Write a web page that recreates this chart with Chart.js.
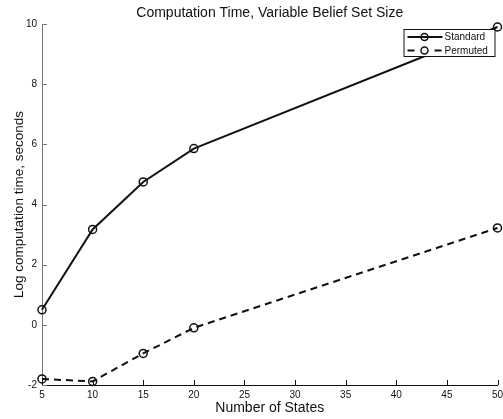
<!DOCTYPE html>
<html>
<head>
<meta charset="utf-8">
<script src="https://cdn.jsdelivr.net/npm/chart.js@4"></script>
<style>
html,body{margin:0;padding:0;background:#fff;}
canvas{display:block;}
</style>
</head>
<body>
<canvas id="c" width="503" height="419"></canvas>
<script>
/* ===== DATA ===== */
const states=[5,10,15,20,50];
const standardLog=[0.5,3.17,4.75,5.86,9.9];
const permutedLog=[-1.8,-1.88,-0.95,-0.1,3.22];
const seriesNames=['Standard','Permuted'];

const FONT='"Liberation Sans", Arial, Helvetica, sans-serif';
const INK='#111';

function pts(ys){return states.map((x,i)=>({x:x,y:ys[i]}));}

/* inward tick marks like the original */
const inwardTicks={
  id:'inwardTicks',
  beforeDatasetsDraw(chart){
    const {ctx,chartArea:a,scales:{x,y}}=chart;
    ctx.save();
    ctx.lineWidth=1;
    ctx.strokeStyle='#777';
    y.ticks.forEach(t=>{
      const py=Math.round(y.getPixelForValue(t.value))+0.5;
      ctx.beginPath();ctx.moveTo(a.left,py);ctx.lineTo(a.left+5,py);ctx.stroke();
    });
    ctx.strokeStyle=INK;
    x.ticks.forEach(t=>{
      const px=Math.round(x.getPixelForValue(t.value))+0.5;
      ctx.beginPath();ctx.moveTo(px,a.bottom);ctx.lineTo(px,a.bottom-5);ctx.stroke();
    });
    ctx.restore();
  }
};

/* boxed legend in the top-right corner */
const boxLegend={
  id:'boxLegend',
  afterDraw(chart){
    const {ctx,chartArea:a}=chart;
    const bx=a.right-94, by=a.top+5, bw=91, bh=27;
    ctx.save();
    ctx.fillStyle='#fff';ctx.fillRect(bx,by,bw,bh);
    ctx.strokeStyle=INK;ctx.lineWidth=1;
    ctx.strokeRect(bx+0.5,by+0.5,bw,bh);
    ctx.font='10px '+FONT;ctx.textBaseline='middle';
    chart.data.datasets.forEach((ds,i)=>{
      const ry=by+8+i*13.5;
      ctx.strokeStyle=INK;ctx.lineWidth=2;
      ctx.setLineDash(ds.borderDash||[]);
      if(ds.borderDash){
        ctx.beginPath();ctx.moveTo(bx+4,ry);ctx.lineTo(bx+11,ry);ctx.stroke();
        ctx.beginPath();ctx.moveTo(bx+31,ry);ctx.lineTo(bx+39,ry);ctx.stroke();
      }else{
        ctx.beginPath();ctx.moveTo(bx+4,ry);ctx.lineTo(bx+39,ry);ctx.stroke();
      }
      ctx.setLineDash([]);
      ctx.lineWidth=1.5;
      ctx.beginPath();ctx.arc(bx+21,ry,3.5,0,Math.PI*2);ctx.stroke();
      ctx.fillStyle=INK;
      ctx.fillText(ds.label,bx+41,ry+0.5);
    });
    ctx.restore();
  }
};

new Chart(document.getElementById('c'),{
  type:'line',
  data:{
    datasets:[
      {label:seriesNames[0],data:pts(standardLog),borderColor:INK,borderWidth:2,
        pointRadius:4,pointBorderWidth:1.5,pointBackgroundColor:'transparent',pointBorderColor:INK,
        fill:false,tension:0,clip:false},
      {label:seriesNames[1],data:pts(permutedLog),borderColor:INK,borderWidth:2,borderDash:[7,5],
        pointRadius:4,pointBorderWidth:1.5,pointBackgroundColor:'transparent',pointBorderColor:INK,
        fill:false,tension:0,clip:false}
    ]
  },
  options:{
    responsive:false,animation:false,devicePixelRatio:1,
    layout:{padding:{left:0,right:3,top:0,bottom:0}},
    plugins:{
      legend:{display:false},
      tooltip:{enabled:false},
      title:{display:true,fullSize:false,text:'Computation Time, Variable Belief Set Size',
        color:INK,font:{family:FONT,size:14,weight:'normal'},padding:{top:4.6,bottom:2.6}}
    },
    scales:{
      x:{type:'linear',min:5,max:50,
        ticks:{stepSize:5,color:INK,font:{family:FONT,size:10},padding:4,maxRotation:0},
        grid:{display:false,drawTicks:false},
        border:{display:true,color:INK,width:1},
        title:{display:true,text:'Number of States',color:INK,font:{family:FONT,size:14},padding:{top:0,bottom:2}},
        afterFit(s){s.height=34;s.paddingRight=0;s.paddingLeft=0;}
      },
      y:{type:'linear',min:-2,max:10,
        ticks:{stepSize:2,color:INK,font:{family:FONT,size:10},padding:5},
        grid:{display:false,drawTicks:false},
        border:{display:true,color:'#777',width:1},
        title:{display:true,text:'Log computation time, seconds',color:INK,font:{family:FONT,size:13.5},padding:{top:10.8,bottom:0}},
        afterFit(s){s.width=42;}
      }
    }
  },
  plugins:[inwardTicks,boxLegend]
});
</script>
</body>
</html>
